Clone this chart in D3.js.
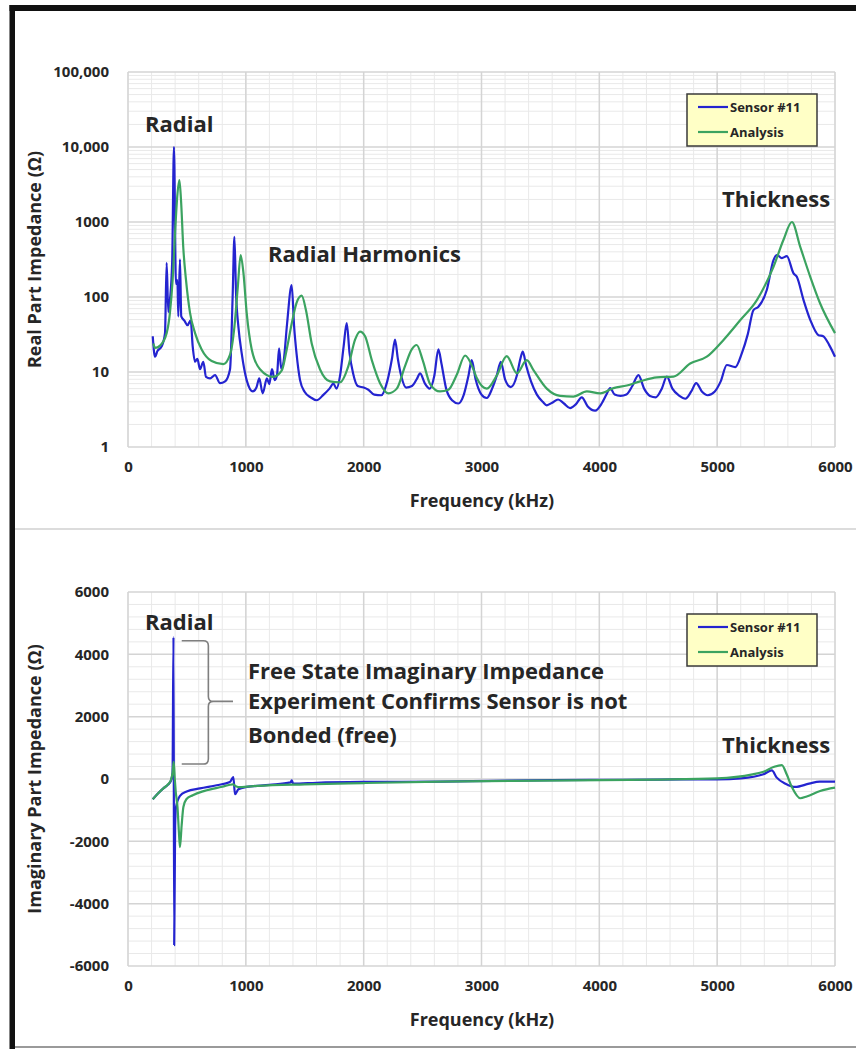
<!DOCTYPE html>
<html>
<head>
<meta charset="utf-8">
<script src="https://cdn.jsdelivr.net/npm/d3@7"></script>
<style>
  body { margin: 0; background: #fff; }
  svg { display: block; }
  text { font-family: "Open Sans", "DejaVu Sans", sans-serif; font-weight: 700; fill: #262626; }
</style>
</head>
<body>
<svg id="chart" width="856" height="1049"></svg>
<script>
// tick values / labels
const freqTicks = [0, 1000, 2000, 3000, 4000, 5000, 6000];
const realTicks = [1, 10, 100, 1000, 10000, 100000];
const realTickLabels = ["1", "10", "100", "1000", "10,000", "100,000"];
const imagTicks = [-6000, -4000, -2000, 0, 2000, 4000, 6000];
const seriesNames = ["Sensor #11", "Analysis"];

// real part impedance, [frequency kHz, ohm]
const realSensor = [
  [210, 30], [229, 16], [250, 19], [286, 22], [314, 33], [328, 285], [342, 63], [356, 92], [375, 300],
  [390, 10000], [407, 150], [419, 168], [427, 55], [441, 317], [452, 55], [480, 48], [505, 42],
  [532, 49], [549, 22], [569, 13.7], [589, 15], [611, 10.9], [639, 13.7], [662, 8.6], [696, 8.2],
  [739, 9.1], [781, 7.1], [824, 7.5], [866, 10.9], [888, 101], [903, 635], [917, 111], [937, 40],
  [965, 17.7], [1007, 7.8], [1060, 5.5], [1090, 6.2], [1114, 8.2], [1143, 5.2], [1179, 8.2],
  [1199, 6.9], [1222, 10.9], [1245, 7.8], [1265, 9.2], [1282, 20.7], [1301, 10.9], [1321, 13.9],
  [1350, 44], [1389, 144], [1410, 40], [1430, 17.8], [1460, 7.8], [1500, 5.4], [1550, 4.6],
  [1601, 4.2], [1660, 5], [1710, 6], [1743, 7], [1770, 6], [1800, 9], [1830, 22], [1856, 45],
  [1880, 18], [1910, 9.6], [1950, 6.5], [2000, 6.2], [2040, 5.8], [2090, 5], [2150, 4.9],
  [2200, 7.5], [2240, 15], [2266, 27], [2290, 15], [2320, 8.7], [2360, 6.2], [2410, 6.5],
  [2450, 8], [2479, 9.6], [2520, 7], [2560, 6], [2600, 9], [2634, 20], [2660, 13], [2700, 6],
  [2750, 4.2], [2804, 3.8], [2850, 5], [2890, 9], [2917, 14.4], [2950, 8], [3000, 5], [3045, 4.5],
  [3090, 6], [3130, 9], [3164, 13.7], [3200, 8], [3249, 6.3], [3300, 9], [3330, 15], [3350, 18.7],
  [3380, 12], [3420, 7.5], [3470, 5], [3520, 4], [3554, 3.6], [3600, 3.9], [3650, 4.3],
  [3700, 3.8], [3752, 3.3], [3800, 3.7], [3851, 4.6], [3900, 3.5], [3964, 3.05], [4020, 3.8],
  [4060, 5], [4092, 6.1], [4130, 5], [4180, 4.8], [4230, 5], [4280, 6.5], [4332, 9.1], [4380, 6],
  [4430, 4.8], [4480, 4.6], [4530, 6], [4573, 8.7], [4620, 6], [4680, 4.8], [4730, 4.4],
  [4780, 5.5], [4822, 7.1], [4870, 5.5], [4920, 4.9], [4980, 5.5], [5030, 7.5], [5082, 12.4],
  [5153, 11.6], [5209, 17.7], [5260, 32], [5308, 67], [5350, 74], [5421, 124], [5478, 310],
  [5506, 363], [5549, 330], [5591, 350], [5648, 207], [5676, 186], [5733, 91], [5789, 50],
  [5860, 31], [5900, 30], [5950, 23], [6000, 16]
];
const realAnalysis = [
  [215, 24], [229, 21], [272, 22.5], [328, 33], [356, 62], [379, 170], [399, 700], [418, 2200],
  [436, 3630], [450, 1950], [469, 460], [492, 170], [526, 62], [569, 33], [625, 20], [710, 14],
  [809, 12.7], [866, 17], [903, 40], [931, 130], [956, 363], [979, 214], [1007, 62], [1050, 20],
  [1120, 10.9], [1233, 8.6], [1304, 10.4], [1347, 20], [1389, 44], [1431, 84], [1474, 104],
  [1510, 67], [1559, 24], [1629, 10.9], [1714, 7.5], [1799, 7.3], [1870, 12], [1927, 27],
  [1969, 34.6], [2012, 30], [2069, 14.4], [2139, 7.1], [2210, 5.2], [2281, 6], [2351, 12],
  [2408, 20], [2450, 22.9], [2501, 14.4], [2564, 6.9], [2648, 5.5], [2719, 5.8], [2790, 9.2],
  [2861, 16.6], [2931, 10.9], [2960, 8.3], [3045, 6], [3130, 9], [3214, 16.3], [3300, 9.6],
  [3384, 14.4], [3441, 10.6], [3554, 6], [3667, 4.8], [3780, 4.7], [3894, 5.5], [4007, 5.2],
  [4120, 6.1], [4233, 6.6], [4346, 7.5], [4488, 8.5], [4630, 8.7], [4771, 13], [4912, 16],
  [5054, 26.8], [5195, 49], [5337, 91], [5478, 253], [5563, 580], [5634, 1000], [5705, 466],
  [5790, 186], [5874, 82], [6000, 33]
];

// imaginary part impedance, [frequency kHz, ohm]
const imagSensor = [
  [210, -650], [250, -480], [300, -300], [340, -180], [365, -50], [378, 200], [386, 4550],
  [392, -5330], [400, -1500], [407, -915], [441, -543], [498, -400], [611, -300], [752, -200],
  [865, -100], [894, 64], [908, -490], [937, -330], [1008, -255], [1200, -190], [1380, -110],
  [1389, -45], [1403, -150], [1600, -120], [2000, -95], [2648, -85], [3100, -60], [3600, -35],
  [4200, -25], [4700, -15], [5000, -10], [5200, 20], [5393, 150], [5464, 276], [5506, 43],
  [5580, -150], [5662, -255], [5780, -150], [5870, -85], [6000, -85]
];
const imagAnalysis = [
  [210, -650], [250, -480], [300, -300], [340, -170], [365, -30], [378, 200], [388, 550],
  [397, 0], [405, -400], [420, -900], [432, -1700], [441, -2190], [455, -1500], [470, -900],
  [495, -650], [550, -520], [650, -380], [800, -250], [890, -170], [915, -230], [950, -260],
  [1100, -220], [1500, -170], [2000, -130], [2648, -85], [3500, -50], [4500, -20], [5000, 20],
  [5300, 150], [5393, 234], [5478, 383], [5549, 447], [5590, 150], [5636, -276], [5705, -617],
  [5760, -560], [5874, -383], [6000, -276]
];

const colors = { sensor: "#2424d0", analysis: "#3ba360" };
const svg = d3.select("#chart");

// frame of the pasted picture
svg.append("rect").attr("x", 15).attr("y", 13).attr("width", 841).attr("height", 1034).attr("fill", "#fff");
svg.append("line").attr("x1", 15).attr("x2", 856).attr("y1", 529).attr("y2", 529).attr("stroke", "#dcdcdc").attr("stroke-width", 2);
svg.append("line").attr("x1", 10).attr("x2", 856).attr("y1", 1047).attr("y2", 1047).attr("stroke", "#9a9a9a").attr("stroke-width", 2);
svg.append("rect").attr("x", 9.5).attr("y", 5).attr("width", 5.5).attr("height", 1044).attr("fill", "#111");
svg.append("rect").attr("x", 9.5).attr("y", 5).attr("width", 846.5).attr("height", 6).attr("fill", "#111");

const x = d3.scaleLinear().domain([0, 6000]).range([128, 835]);

function panel(cfg) {
  const g = svg.append("g");
  const y = cfg.y;
  const [yBot, yTop] = y.range();

  // minor grid
  g.selectAll(null).data(d3.range(0, 6001, 200)).join("line")
    .attr("x1", d => x(d)).attr("x2", d => x(d)).attr("y1", yTop).attr("y2", yBot)
    .attr("stroke", "#e9e9e9").attr("stroke-width", 1);
  g.selectAll(null).data(cfg.minorY).join("line")
    .attr("x1", x(0)).attr("x2", x(6000)).attr("y1", d => y(d)).attr("y2", d => y(d))
    .attr("stroke", "#e9e9e9").attr("stroke-width", 1);
  // major grid
  g.selectAll(null).data(freqTicks).join("line")
    .attr("x1", d => x(d)).attr("x2", d => x(d)).attr("y1", yTop).attr("y2", yBot)
    .attr("stroke", "#d4d4d4").attr("stroke-width", 1.5);
  g.selectAll(null).data(cfg.yTicks).join("line")
    .attr("x1", x(0)).attr("x2", x(6000)).attr("y1", d => y(d)).attr("y2", d => y(d))
    .attr("stroke", "#d4d4d4").attr("stroke-width", 1.5);

  // axes (labels only, Excel style)
  const xAxis = g.append("g").attr("transform", `translate(0,${yBot + 11})`)
    .call(d3.axisBottom(x).tickValues(freqTicks).tickSize(0).tickFormat(d => String(d)));
  const yAxis = g.append("g").attr("transform", `translate(${x(0) - 16},0)`)
    .call(d3.axisLeft(y).tickValues(cfg.yTicks).tickSize(0).tickFormat(cfg.yFormat));
  [xAxis, yAxis].forEach(a => {
    a.select(".domain").remove();
    a.selectAll("text").attr("font-size", 15).attr("font-family", null).attr("fill", null);
  });

  g.append("text").attr("x", 482).attr("y", yBot + 60).attr("text-anchor", "middle")
    .attr("font-size", 18).text("Frequency (kHz)");
  g.append("text").attr("transform", `translate(41,${(yTop + yBot) / 2}) rotate(-90)`)
    .attr("text-anchor", "middle").attr("font-size", 18).text(cfg.title);

  // series
  const line = d3.line().x(d => x(d[0])).y(d => y(d[1])).curve(d3.curveMonotoneX);
  g.append("path").datum(cfg.sensor).attr("d", line).attr("fill", "none")
    .attr("stroke", colors.sensor).attr("stroke-width", 2.2).attr("stroke-linejoin", "round");
  g.append("path").datum(cfg.analysis).attr("d", line).attr("fill", "none")
    .attr("stroke", colors.analysis).attr("stroke-width", 2.2).attr("stroke-linejoin", "round");

  // legend
  const lg = g.append("g").attr("transform", `translate(687,${yTop + 22})`);
  lg.append("rect").attr("width", 130).attr("height", 52).attr("fill", "#ffffc6")
    .attr("stroke", "#3a3a3a").attr("stroke-width", 1.5);
  [colors.sensor, colors.analysis].forEach((c, i) => {
    lg.append("line").attr("x1", 11).attr("x2", 41).attr("y1", 13 + i * 25).attr("y2", 13 + i * 25)
      .attr("stroke", c).attr("stroke-width", 2.2);
    lg.append("text").attr("x", 43).attr("y", 13 + i * 25).attr("dy", "0.35em")
      .attr("font-size", 13).text(seriesNames[i]);
  });

  // annotations
  cfg.notes.forEach(n => {
    g.append("text").attr("x", x(n.f)).attr("y", y(n.v)).attr("font-size", 22)
      .attr("fill", "#1a1a1a").text(n.text);
  });
  return { g, y };
}

const yReal = d3.scaleLog().domain([1, 100000]).range([447, 72]);
const realMinor = [];
[1, 10, 100, 1000, 10000].forEach(d => d3.range(2, 10).forEach(k => realMinor.push(d * k)));
panel({
  y: yReal, yTicks: realTicks, minorY: realMinor,
  yFormat: d => realTickLabels[realTicks.indexOf(d)],
  title: "Real Part Impedance (Ω)",
  sensor: realSensor, analysis: realAnalysis,
  notes: [
    { f: 144, v: 15800, text: "Radial" },
    { f: 1188, v: 293, text: "Radial Harmonics" },
    { f: 5041, v: 1585, text: "Thickness" }
  ]
});

const yImag = d3.scaleLinear().domain([-6000, 6000]).range([966, 592]);
const imag = panel({
  y: yImag, yTicks: imagTicks,
  minorY: d3.range(-6000, 6001, 400).filter(d => d % 2000 !== 0),
  yFormat: d => String(d),
  title: "Imaginary Part Impedance (Ω)",
  sensor: imagSensor, analysis: imagAnalysis,
  notes: [
    { f: 144, v: 4790, text: "Radial" },
    { f: 1018, v: 3224, text: "Free State Imaginary Impedance" },
    { f: 1018, v: 2234, text: "Experiment Confirms Sensor is not" },
    { f: 1018, v: 1149, text: "Bonded (free)" },
    { f: 5041, v: 835, text: "Thickness" }
  ]
});

// brace pointing at the radial spike
const xa = x(456), xb = x(682), xt = x(891);
const ya = yImag(4437), yb = yImag(479), ym = yImag(2490);
imag.g.append("path")
  .attr("d", `M${xa},${ya} H${xb - 5} Q${xb},${ya} ${xb},${ya + 5} V${ym - 5} Q${xb},${ym} ${xb + 5},${ym}` +
             ` Q${xb},${ym} ${xb},${ym + 5} V${yb - 5} Q${xb},${yb} ${xb - 5},${yb} H${xa}` +
             ` M${xb + 5},${ym} H${xt}`)
  .attr("fill", "none").attr("stroke", "#7f7f7f").attr("stroke-width", 1.6);
</script>
</body>
</html>
